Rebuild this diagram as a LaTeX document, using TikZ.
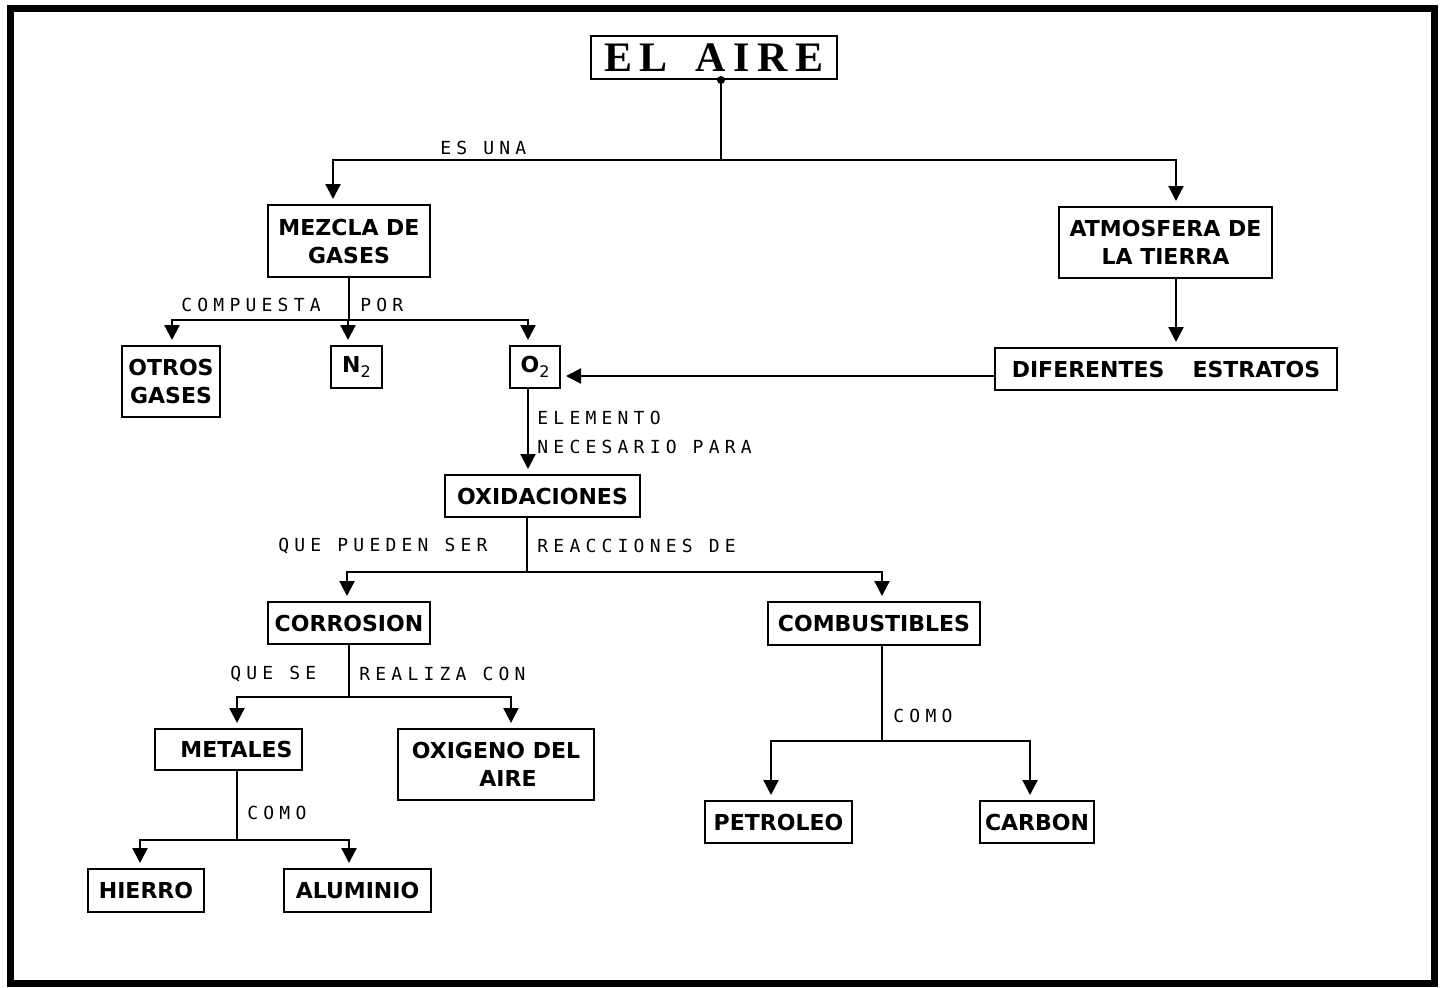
\documentclass[tikz,border=0pt]{standalone}
\usepackage{fontspec}
\usetikzlibrary{arrows.meta}
\newfontfamily\boxfont{DejaVu Sans}
\newfontfamily\lblfont[LetterSpace=29]{DejaVu Sans Mono}
\newfontfamily\titlefont[LetterSpace=18]{Liberation Serif}
\newcommand{\subtwo}{\raisebox{-2.5pt}{\mdseries\fontsize{8}{8}\selectfont 2}}
\begin{document}
\begin{tikzpicture}[x=0.5pt,y=-0.5pt,
  box/.style={draw, line width=1pt, inner sep=0pt, align=center,
    font=\boxfont\bfseries\fontsize{11}{14}\selectfont},
  lbl/.style={anchor=west, inner sep=0pt, font=\lblfont\fontsize{9}{9}\selectfont},
  conn/.style={line width=1.1pt},
  arr/.style={conn, -{Triangle[width=7.5pt,length=7.5pt]}, shorten >=2.5pt}
]
\useasboundingbox (0,0) rectangle (1440,987);
% outer frame
\draw[line width=3.5pt] (10.5,8.5) rectangle (1434,983.5);

% ---- boxes ----
\node[box, minimum width=123pt, minimum height=21.5pt,
      font=\titlefont\bfseries\fontsize{21}{21}\selectfont] (aire) at (714,57.5) {EL\hspace{14pt}AIRE};
\node[box, minimum width=81pt, minimum height=36pt] (mezcla) at (349,241) {MEZCLA DE\\GASES};
\node[box, minimum width=106.5pt, minimum height=35.5pt] (atmos) at (1165.5,242.5) {ATMOSFERA DE\\LA TIERRA};
\node[box, minimum width=49pt, minimum height=35.5pt] (otros) at (171,381.5) {OTROS\\GASES};
\node[box, minimum width=25.5pt, minimum height=21pt] (n2) at (356.5,367) {N\subtwo};
\node[box, minimum width=25pt, minimum height=21pt] (o2) at (535,367) {O\subtwo};
\node[box, minimum width=171pt, minimum height=21pt] (dif) at (1166,369) {DIFERENTES\hspace{14pt}ESTRATOS};
\node[box, minimum width=97.5pt, minimum height=21pt] (oxid) at (542.5,496) {OXIDACIONES};
\node[box, minimum width=81pt, minimum height=21pt] (corr) at (349,623) {CORROSION};
\node[box, minimum width=106pt, minimum height=21.5pt] (comb) at (874,623.5) {COMBUSTIBLES};
\node[box, minimum width=73.5pt, minimum height=20.5pt] (metal) at (228.5,749.5) {\hspace{8pt}METALES};
\node[box, minimum width=98pt, minimum height=35.5pt] (oxig) at (496,764.5) {OXIGENO DEL\\\hspace{12pt}AIRE};
\node[box, minimum width=58pt, minimum height=21.5pt] (hierro) at (146,890.5) {HIERRO};
\node[box, minimum width=73.5pt, minimum height=21.5pt] (alum) at (357.5,890.5) {ALUMINIO};
\node[box, minimum width=73.5pt, minimum height=21pt] (petro) at (778.5,822) {PETROLEO};
\node[box, minimum width=57pt, minimum height=21pt] (carbon) at (1037,822) {CARBON};

% ---- junctions ----
\coordinate (j0) at (721,160);
\coordinate (j1) at (349,320);
\coordinate (j3) at (527,572);
\coordinate (j4) at (349,697);
\coordinate (j5) at (237,840);
\coordinate (j6) at (882,741);

% ---- connectors ----
\coordinate (s0) at ([xshift=3.5pt]aire.south);
\fill (s0) circle (2pt);
\draw[conn] (s0) -- (j0);
\draw[arr] (j0) -| ([xshift=-8pt]mezcla.north);
\draw[arr] (j0) -| ([xshift=5.25pt]atmos.north);

\draw[conn] (mezcla.south) -- (j1);
\draw[arr] (j1) -| ([xshift=0.5pt]otros.north);
\draw[arr] (j1) -| ([xshift=-4.25pt]n2.north);
\draw[arr] (j1) -| ([xshift=-3.5pt]o2.north);

\coordinate (sa) at ([xshift=5.25pt]atmos.south);
\draw[arr] (sa) -- (sa |- dif.north);

\coordinate (dw) at ([yshift=-3.5pt]dif.west);
\draw[arr] (dw) -- (dw -| o2.east);

\coordinate (s2) at ([xshift=-3.5pt]o2.south);
\draw[arr] (s2) -- (s2 |- oxid.north);

\coordinate (s3) at ([xshift=-7.75pt]oxid.south);
\draw[conn] (s3) -- (j3);
\draw[arr] (j3) -| ([xshift=-1pt]corr.north);
\draw[arr] (j3) -| ([xshift=4pt]comb.north);

\draw[conn] (corr.south) -- (j4);
\draw[arr] (j4) -| ([xshift=4.25pt]metal.north);
\draw[arr] (j4) -| ([xshift=7.5pt]oxig.north);

\coordinate (s5) at ([xshift=4.25pt]metal.south);
\draw[conn] (s5) -- (j5);
\draw[arr] (j5) -| ([xshift=-3pt]hierro.north);
\draw[arr] (j5) -| ([xshift=-4.25pt]alum.north);

\coordinate (s6) at ([xshift=4pt]comb.south);
\draw[conn] (s6) -- (j6);
\draw[arr] (j6) -| ([xshift=-3.75pt]petro.north);
\draw[arr] (j6) -| ([xshift=-3.5pt]carbon.north);

% ---- link labels ----
\node[lbl] (l1) at (440,148) {ES UNA};
\node[lbl] (l2) at (181,305) {COMPUESTA};
\node[lbl] (l3) at (360,305) {POR};
\node[lbl] (l4) at (537,418) {ELEMENTO};
\node[lbl] (l5) at (537,447) {NECESARIO PARA};
\node[lbl] (l6) at (278,546) {QUE PUEDEN SER};
\node[lbl] (l7) at (537,546) {REACCIONES DE};
\node[lbl] (l8) at (230,674) {QUE SE};
\node[lbl] (l9) at (359,674) {REALIZA CON};
\node[lbl] (l10) at (247,813) {COMO};
\node[lbl] (l11) at (893,716) {COMO};
\end{tikzpicture}
\end{document}
